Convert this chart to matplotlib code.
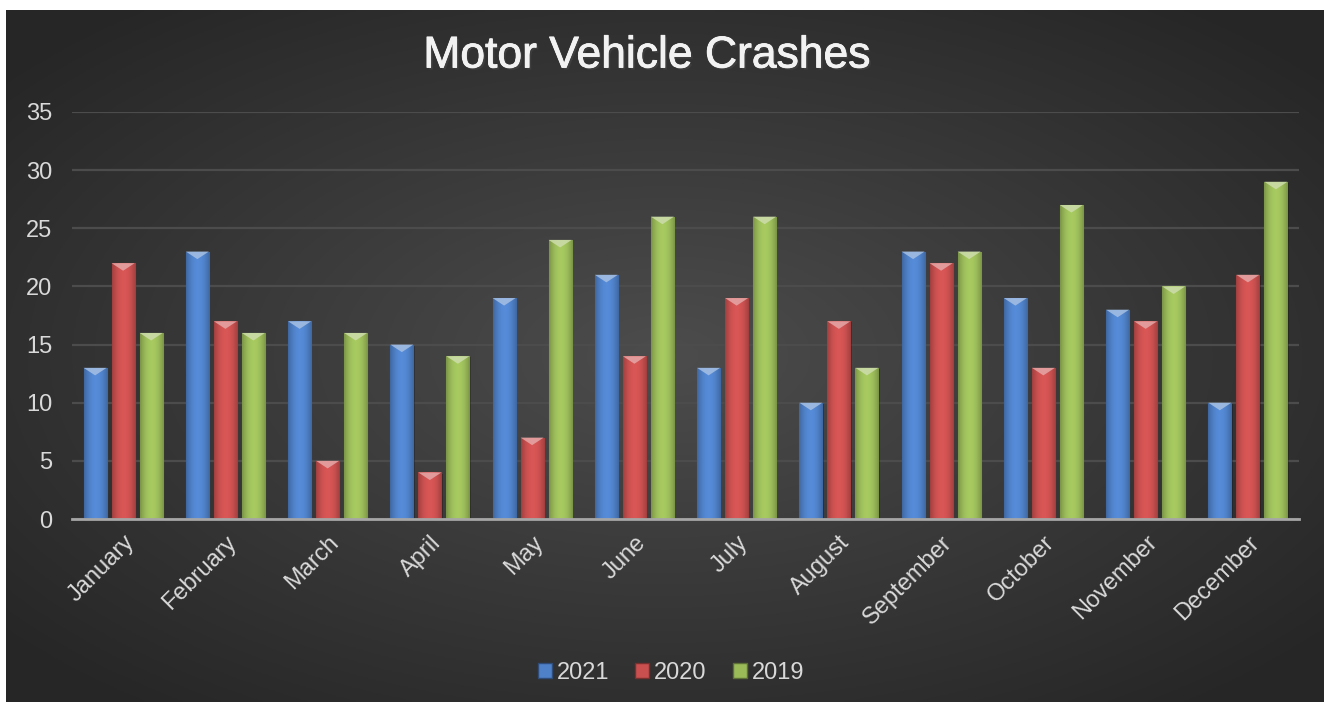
import numpy as np
import matplotlib
matplotlib.use('Agg')
import matplotlib.pyplot as plt
from matplotlib.patches import Patch, Polygon
from matplotlib.colors import to_rgb
import matplotlib.patheffects as pe

plt.rcParams['font.family'] = ['Liberation Sans', 'DejaVu Sans']

# data
months = ['January', 'February', 'March', 'April', 'May', 'June', 'July',
          'August', 'September', 'October', 'November', 'December']
series_names = ['2021', '2020', '2019']
crashes_2021 = [13, 23, 17, 15, 19, 21, 13, 10, 23, 19, 18, 10]
crashes_2020 = [22, 17, 5, 4, 7, 14, 19, 17, 22, 13, 17, 21]
crashes_2019 = [16, 16, 16, 14, 24, 26, 26, 13, 23, 27, 20, 29]
colors = ['#4f81c8', '#c9504f', '#9bbb59']

W, H = 1324, 702
fig = plt.figure(figsize=(W / 100, H / 100), dpi=100)
fig.patch.set_facecolor('white')

# dark radial background of the chart area
bg = fig.add_axes([6 / W, 0, 1 - 6 / W, 1 - 10 / H])
yy, xx = np.mgrid[-1:1:300j, -1:1:600j]
r = np.sqrt(xx ** 2 + yy ** 2)
shade = 0.30 - 0.15 * np.clip(r / 1.3, 0, 1)
bg.imshow(np.dstack([shade] * 3), aspect='auto', extent=[0, 1, 0, 1])
bg.set_axis_off()

ax = fig.add_axes([72 / W, 183 / H, (1299 - 72) / W, (519 - 112) / H])
ax.patch.set_alpha(0)

x = np.arange(len(months))
bw = 0.225
step = bw + 0.049
all_series = [crashes_2021, crashes_2020, crashes_2019]

def shaded_bars(bars, color):
    base = np.array(to_rgb(color))
    t = np.linspace(-1, 1, 40)
    fac = 1.08 - 0.28 * t ** 2
    grad = np.clip(base[None, :] * fac[:, None], 0, 1)[None, :, :]
    light = np.clip(base + (1 - base) * 0.5, 0, 1)
    for b in bars:
        x0, w, h = b.get_x(), b.get_width(), b.get_height()
        # soft shadow
        ax.bar(x0 + w / 2 + 0.012, h, w, bottom=-0.1, color='black', alpha=0.25, zorder=1.5)
        im = ax.imshow(grad, extent=[x0, x0 + w, 0, h], aspect='auto', zorder=2,
                       interpolation='bilinear')
        im.set_clip_path(b)
        tri = Polygon([[x0, h], [x0 + w, h], [x0 + w / 2, h - 0.65]], closed=True,
                      facecolor=light, edgecolor='none', alpha=0.85, zorder=3)
        ax.add_patch(tri)

for i, (vals, col) in enumerate(zip(all_series, colors)):
    bars = ax.bar(x + (i - 1) * step, vals, bw, color=col,
                  edgecolor=np.array(to_rgb(col)) * 0.7, linewidth=0.8, zorder=2)
    shaded_bars(bars, col)

ax.set_xlim(-0.5, len(months) - 0.5)
ax.set_ylim(0, 35)
ax.set_yticks(range(0, 36, 5))
ax.yaxis.grid(True, color='#4c4c4c', linewidth=1.6, zorder=0)
ax.set_axisbelow(True)
for s in ['top', 'right', 'left']:
    ax.spines[s].set_visible(False)
ax.spines['bottom'].set_color('#a6a6a6')
ax.spines['bottom'].set_linewidth(2)
ax.spines['bottom'].set_zorder(4)
ax.tick_params(axis='both', length=0, colors='#d9d9d9', labelsize=17)
ax.tick_params(axis='y', pad=14)
ax.set_xticks(x)
ax.set_xticklabels(months, rotation=45, ha='right', rotation_mode='anchor', fontsize=17)
ax.tick_params(axis='x', pad=9)

fig.text(647 / W, 1 - 56 / H, 'Motor Vehicle Crashes', ha='center', va='center',
         fontsize=32, color='#f2f2f2',
         path_effects=[pe.withSimplePatchShadow(offset=(1.5, -1.5), alpha=0.5),
                       pe.withStroke(linewidth=0.6, foreground='#f2f2f2')])

handles = [Patch(facecolor=c, edgecolor=np.array(to_rgb(c)) * 0.6) for c in colors]
leg = fig.legend(handles, series_names, loc='center', bbox_to_anchor=(671 / W, 29 / H),
                 ncol=3, frameon=False, fontsize=17, handlelength=0.6, handleheight=0.6,
                 handletextpad=0.2, columnspacing=1.1)
for t in leg.get_texts():
    t.set_color('#d9d9d9')

fig.savefig('out.png', dpi=100, facecolor='white')
